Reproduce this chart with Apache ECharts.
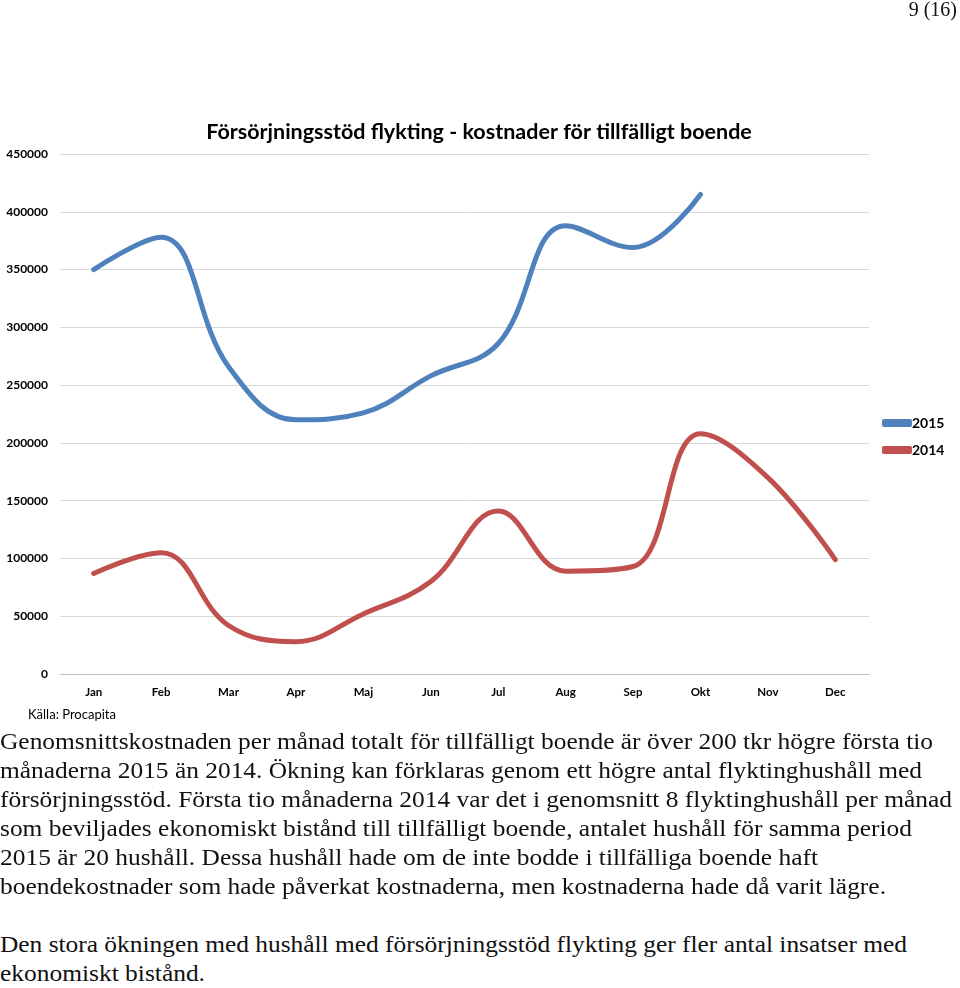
<!DOCTYPE html>
<html>
<head>
<meta charset="utf-8">
<script src="https://cdn.jsdelivr.net/npm/echarts@6/dist/echarts.min.js"></script>
<style>
  html, body { margin: 0; padding: 0; background: #fff; }
  #wrap { position: relative; width: 960px; height: 988px; overflow: hidden; }
  #chart { position: absolute; left: 0; top: 0; width: 960px; height: 730px; }
  .ln { position: absolute; left: 0; white-space: nowrap; font-family: "Liberation Serif", "Times New Roman", Tinos, Times, serif; font-size: 23px; color: #111; transform-origin: 0 0; }
  #pg { position: absolute; right: 3px; top: -2px; font-family: "Liberation Serif", "Times New Roman", serif; font-size: 20px; color: #111; }
</style>
</head>
<body>
<div id="wrap">
  <div id="chart"></div>
  <div id="pg">9 (16)</div>
  <div id="text"></div>
</div>
<script>
const months = ['Jan', 'Feb', 'Mar', 'Apr', 'Maj', 'Jun', 'Jul', 'Aug', 'Sep', 'Okt', 'Nov', 'Dec'];
const values2015 = [350000, 378000, 266000, 220000, 226000, 258000, 286000, 388000, 369000, 415000, null, null];
const values2014 = [87000, 105000, 42000, 28000, 52000, 80000, 141000, 89000, 93000, 208000, 170000, 99000];
const yTicks = [0, 50000, 100000, 150000, 200000, 250000, 300000, 350000, 400000, 450000];

const paragraphLines = [
  ['Genomsnittskostnaden per månad totalt för tillfälligt boende är över 200 tkr högre första tio', 744, 933],
  ['månaderna 2015 än 2014. Ökning kan förklaras genom ett högre antal flyktinghushåll med', 773, 922],
  ['försörjningsstöd. Första tio månaderna 2014 var det i genomsnitt 8 flyktinghushåll per månad', 802, 952],
  ['som beviljades ekonomiskt bistånd till tillfälligt boende, antalet hushåll för samma period', 831, 912],
  ['2015 är 20 hushåll. Dessa hushåll hade om de inte bodde i tillfälliga boende haft', 860, 818],
  ['boendekostnader som hade påverkat kostnaderna, men kostnaderna hade då varit lägre.', 889, 886],
  ['Den stora ökningen med hushåll med försörjningsstöd flykting ger fler antal insatser med', 947, 907],
  ['ekonomiskt bistånd.', 976, 205]
];

const textBox = document.getElementById('text');
paragraphLines.forEach(function (l) {
  const d = document.createElement('div');
  d.className = 'ln';
  d.textContent = l[0];
  d.style.top = (l[1] - 15) + 'px';
  textBox.appendChild(d);
  const w = d.getBoundingClientRect().width;
  d.style.transform = 'scaleX(' + (l[2] / w) + ')';
});

const chart = echarts.init(document.getElementById('chart'), null, { renderer: 'canvas' });
const font = 'Lato, "Open Sans", sans-serif';
chart.setOption({
  animation: false,
  title: {
    text: 'Försörjningsstöd flykting - kostnader för tillfälligt boende',
    left: 474, top: 116, textAlign: 'center',
    textStyle: { fontFamily: font, fontWeight: 'bold', fontSize: 21.5, color: '#000' }
  },
  legend: {
    orient: 'vertical', left: 877, top: 411, itemGap: 13,
    itemWidth: 30, itemHeight: 8,
    icon: 'roundRect',
    data: ['2015', '2014'],
    textStyle: { fontFamily: font, fontWeight: 'bold', fontSize: 14, color: '#000', padding: [0, 0, 0, -5] }
  },
  grid: { left: 60, right: 91, top: 154, bottom: 730 - 674 },
  xAxis: {
    type: 'category', data: months, boundaryGap: true,
    axisLine: { lineStyle: { color: '#bfbfbf', width: 1 } },
    axisTick: { show: false },
    axisLabel: { fontFamily: font, fontWeight: 'bold', fontSize: 11.5, color: '#000', margin: 12 }
  },
  yAxis: {
    type: 'value', min: 0, max: 450000, interval: 50000,
    axisLine: { show: false }, axisTick: { show: false },
    splitLine: { lineStyle: { color: '#d9d9d9', width: 1 } },
    axisLabel: { fontFamily: font, fontWeight: 'bold', fontSize: 12, color: '#000', margin: 12,
      formatter: function (v) { return yTicks.indexOf(v) >= 0 ? String(v) : ''; } }
  },
  series: [
    { name: '2015', type: 'line', data: values2015, smooth: 0.4, showSymbol: false, symbol: 'none',
      lineStyle: { color: '#4f81bd', width: 5, cap: 'round', join: 'round' }, itemStyle: { color: '#4f81bd' } },
    { name: '2014', type: 'line', data: values2014, smooth: 0.4, showSymbol: false, symbol: 'none',
      lineStyle: { color: '#c0504d', width: 5, cap: 'round', join: 'round' }, itemStyle: { color: '#c0504d' } }
  ],
  graphic: [
    { type: 'text', left: 28, top: 708, style: { text: 'Källa: Procapita', fontFamily: font, fontSize: 13, fill: '#000' } }
  ]
});
</script>
</body>
</html>
